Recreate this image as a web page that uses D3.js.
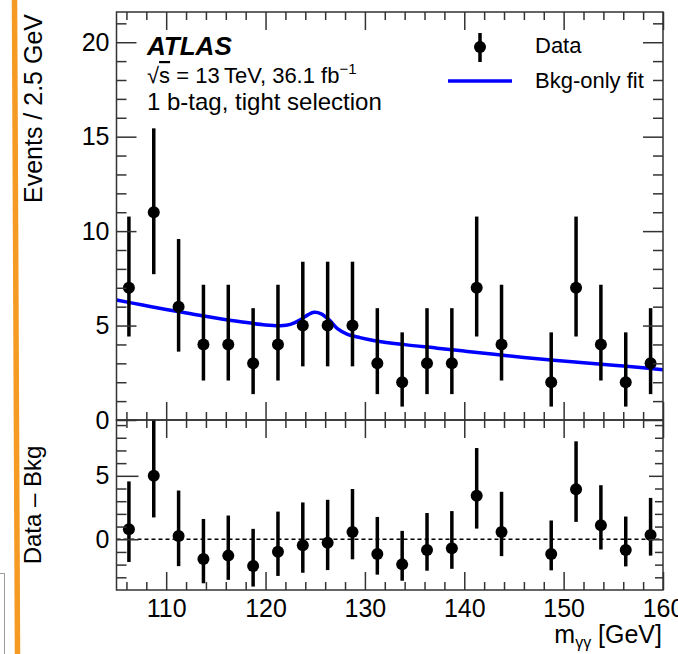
<!DOCTYPE html>
<html>
<head>
<meta charset="utf-8">
<script src="https://cdn.jsdelivr.net/npm/d3@7"></script>
<style>
  body { margin: 0; background: #fff; }
  svg { display: block; font-family: "Liberation Sans", Arial, Helvetica, sans-serif; }
</style>
</head>
<body>
<svg id="chart" width="678" height="654"></svg>
<script>
// bin centres of the m_yy histogram (2.5 GeV bins)
const massBins = [106.25, 108.75, 111.25, 113.75, 116.25, 118.75, 121.25, 123.75, 126.25, 128.75, 131.25,
    133.75, 136.25, 138.75, 141.25, 143.75, 146.25, 148.75, 151.25, 153.75, 156.25, 158.75];
const dataCounts = [7, 11, 6, 4, 4, 3, 4, 5, 5, 5, 3, 2, 3, 3, 7, 4, 0, 2, 7, 4, 2, 3];
// asymmetric (poisson) error bars
const errLow = [2.58, 3.28, 2.38, 1.91, 1.91, 1.63, 1.91, 2.16, 2.16, 2.16, 1.63, 1.29, 1.63, 1.63, 2.58, 1.91, 0, 1.29, 2.58, 1.91, 1.29, 1.63];
const errUp = [3.77, 4.44, 3.58, 3.16, 3.16, 2.92, 3.16, 3.38, 3.38, 3.38, 2.92, 2.64, 2.92, 2.92, 3.77, 3.16, 1.84, 2.64, 3.77, 3.16, 2.64, 2.92];
// data - bkg, lower pad
const residuals = [0.79, 5.0, 0.26, -1.56, -1.29, -2.1, -0.98, -0.48, -0.27, 0.58, -1.16, -1.98, -0.85, -0.7,
    3.42, 0.58, null, -1.16, 3.95, 1.1, -0.85, 0.34];

// bkg-only fit curve
const fitMass = [105, 107.5, 110, 112.5, 115, 117.5, 120, 121.5, 122.5, 123.5, 124.3, 124.9, 125.6, 126.4,
    127.2, 128.2, 129.5, 131, 134, 137, 140, 143, 146, 149, 152, 155, 158, 160];
const fitValues = [6.35, 6.1, 5.85, 5.62, 5.4, 5.2, 5.03, 4.99, 5.06, 5.3, 5.58, 5.7, 5.62, 5.3,
    4.85, 4.55, 4.36, 4.2, 3.99, 3.82, 3.65, 3.48, 3.31, 3.16, 3.03, 2.9, 2.76, 2.66];

// ticks
const xMajorTicks = [110, 120, 130, 140, 150, 160];
const xMinorTicks = [106, 108, 112, 114, 116, 118, 122, 124, 126, 128, 132, 134, 136, 138, 142, 144, 146, 148, 152, 154, 156, 158];
const yTopMajor = [0, 5, 10, 15, 20];
const yTopMinor = [1, 2, 3, 4, 6, 7, 8, 9, 11, 12, 13, 14, 16, 17, 18, 19, 21];
const yBotMajor = [0, 5];
const yBotMinor = [-3, -2, -1, 1, 2, 3, 4, 6, 7, 8, 9];

const FRAME_COLOR = '#333';
const svg = d3.select('#chart');

svg.append('rect').attr('width', 678).attr('height', 654).attr('fill', '#fff');

// orange marker stroke on the left edge + bit of a neighbouring box
svg.append('line')
    .attr('x1', 14.5).attr('y1', 0).attr('x2', 17.5).attr('y2', 654)
    .attr('stroke', '#f59a23').attr('stroke-width', 5.5);
svg.append('path')
    .attr('d', 'M0,573.5H4.5V654')
    .attr('fill', 'none').attr('stroke', '#999').attr('stroke-width', 1);

const x = d3.scaleLinear().domain([105, 160]).range([116.5, 663]);
const yTop = d3.scaleLinear().domain([0, 21.6]).range([420, 12]);
const yBot = d3.scaleLinear().domain([-4, 9.4]).range([590, 420]).clamp(true);

const styleAxis = g => {
    g.select('.domain').remove();
    g.selectAll('.tick line').attr('stroke', FRAME_COLOR).attr('stroke-width', 1.5);
    g.selectAll('.tick text').attr('fill', '#000').attr('font-size', 25);
};

const drawPad = (yScale, yMajor, yMinor, leftLen, rightLen, showXLabels) => {
    const [yB, yT] = yScale.range();
    const g = svg.append('g');
    const [xL, xR] = x.range();

    // x ticks, bottom and top edge, pointing inwards
    const xAxes = [
        [d3.axisBottom, yB],
        [d3.axisTop, yT],
    ];
    xAxes.forEach(([axisFn, yPos], i) => {
        g.append('g').attr('transform', `translate(0,${yPos})`)
            .call(axisFn(x).tickValues(xMinorTicks).tickSize(-8).tickFormat(''))
            .call(styleAxis);
        g.append('g').attr('transform', `translate(0,${yPos})`)
            .call(axisFn(x).tickValues(xMajorTicks).tickSize(-18).tickPadding(9)
                .tickFormat(showXLabels && i === 0 ? d3.format('d') : ''))
            .call(styleAxis);
    });

    // y ticks left (with labels) and right
    g.append('g').attr('transform', `translate(${xL},0)`)
        .call(d3.axisLeft(yScale).tickValues(yMinor).tickSize(-leftLen[1]).tickFormat(''))
        .call(styleAxis);
    g.append('g').attr('transform', `translate(${xL},0)`)
        .call(d3.axisLeft(yScale).tickValues(yMajor).tickSize(-leftLen[0]).tickPadding(7).tickFormat(d3.format('d')))
        .call(styleAxis);
    g.append('g').attr('transform', `translate(${xR},0)`)
        .call(d3.axisRight(yScale).tickValues(yMinor).tickSize(-rightLen[1]).tickFormat(''))
        .call(styleAxis);
    g.append('g').attr('transform', `translate(${xR},0)`)
        .call(d3.axisRight(yScale).tickValues(yMajor).tickSize(-rightLen[0]).tickFormat(''))
        .call(styleAxis);

    g.append('rect')
        .attr('x', xL).attr('y', yT)
        .attr('width', xR - xL).attr('height', yB - yT)
        .attr('fill', 'none').attr('stroke', FRAME_COLOR).attr('stroke-width', 1.5);
};

// clip path for the upper pad
const defs = svg.append('defs');
defs.append('clipPath').attr('id', 'clipTop').append('rect')
    .attr('x', x.range()[0]).attr('y', yTop.range()[1])
    .attr('width', x.range()[1] - x.range()[0]).attr('height', yTop.range()[0] - yTop.range()[1]);

/* upper pad */
const fitLine = d3.line()
    .x(d => x(d[0]))
    .y(d => yTop(d[1]))
    .curve(d3.curveCatmullRom.alpha(0.5));

svg.append('path')
    .datum(fitMass.map((m, i) => [m, fitValues[i]]))
    .attr('clip-path', 'url(#clipTop)')
    .attr('d', fitLine)
    .attr('fill', 'none')
    .attr('stroke', '#0000ff')
    .attr('stroke-width', 3.5);

const points = massBins.map((m, i) => ({
    m, n: dataCounts[i], lo: errLow[i], up: errUp[i], r: residuals[i]
})).filter(d => d.n > 0);

const topPts = svg.append('g');
topPts.selectAll('line')
    .data(points).enter()
    .append('line')
        .attr('x1', d => x(d.m)).attr('x2', d => x(d.m))
        .attr('y1', d => yTop(d.n - d.lo)).attr('y2', d => yTop(d.n + d.up))
        .attr('stroke', '#000').attr('stroke-width', 3.5);
topPts.selectAll('circle')
    .data(points).enter()
    .append('circle')
        .attr('cx', d => x(d.m)).attr('cy', d => yTop(d.n))
        .attr('r', 6).attr('fill', '#000');

drawPad(yTop, yTopMajor, yTopMinor, [20, 10], [20, 10], false);

/* lower pad */
svg.append('line')
    .attr('x1', x.range()[0]).attr('x2', x.range()[1])
    .attr('y1', yBot(0)).attr('y2', yBot(0))
    .attr('stroke', '#000').attr('stroke-width', 1.3)
    .attr('stroke-dasharray', '4,3');

const botPts = svg.append('g');
botPts.selectAll('line')
    .data(points).enter()
    .append('line')
        .attr('x1', d => x(d.m)).attr('x2', d => x(d.m))
        .attr('y1', d => yBot(d.r - d.lo)).attr('y2', d => yBot(d.r + d.up))
        .attr('stroke', '#000').attr('stroke-width', 3.5);
botPts.selectAll('circle')
    .data(points).enter()
    .append('circle')
        .attr('cx', d => x(d.m)).attr('cy', d => yBot(d.r))
        .attr('r', 6).attr('fill', '#000');

drawPad(yBot, yBotMajor, yBotMinor, [22, 10], [14, 8], true);

/* axis titles */
svg.append('text')
    .attr('transform', 'translate(42,14) rotate(-90)')
    .attr('text-anchor', 'end')
    .attr('font-size', 25)
    .text('Events / 2.5 GeV');

svg.append('text')
    .attr('transform', 'translate(41,505) rotate(-90)')
    .attr('text-anchor', 'middle')
    .attr('font-size', 24)
    .text('Data \u2013 Bkg');

const xTitle = svg.append('text')
    .attr('x', 662).attr('y', 643)
    .attr('text-anchor', 'end')
    .attr('font-size', 25);
xTitle.append('tspan').text('m');
xTitle.append('tspan').attr('font-size', 16).attr('dy', 5).text('\u03b3\u03b3');
xTitle.append('tspan').attr('dy', -5).text(' [GeV]');

/* labels */
svg.append('text')
    .attr('x', 147).attr('y', 55)
    .attr('font-size', 26).attr('font-weight', 'bold').attr('font-style', 'italic')
    .text('ATLAS');

const energy = svg.append('text')
    .attr('x', 147).attr('y', 83)
    .attr('font-size', 22);
energy.append('tspan').text('\u221a');
energy.append('tspan').attr('text-decoration', 'overline').text('s');
energy.append('tspan').text(' = 13\u2009TeV, 36.1 fb');
energy.append('tspan').attr('font-size', 15).attr('dy', -9).text('\u22121');

svg.append('text')
    .attr('x', 147).attr('y', 110)
    .attr('font-size', 24)
    .text('1 b-tag, tight selection');

/* legend */
const legend = svg.append('g');
legend.append('line')
    .attr('x1', 480).attr('x2', 480).attr('y1', 33).attr('y2', 62)
    .attr('stroke', '#000').attr('stroke-width', 3.5);
legend.append('circle')
    .attr('cx', 480).attr('cy', 47).attr('r', 6).attr('fill', '#000');
legend.append('text')
    .attr('x', 535).attr('y', 53).attr('font-size', 22).text('Data');
legend.append('line')
    .attr('x1', 448).attr('x2', 512).attr('y1', 81).attr('y2', 81)
    .attr('stroke', '#0000ff').attr('stroke-width', 3.5);
legend.append('text')
    .attr('x', 535).attr('y', 88).attr('font-size', 22).text('Bkg-only fit');
</script>
</body>
</html>
